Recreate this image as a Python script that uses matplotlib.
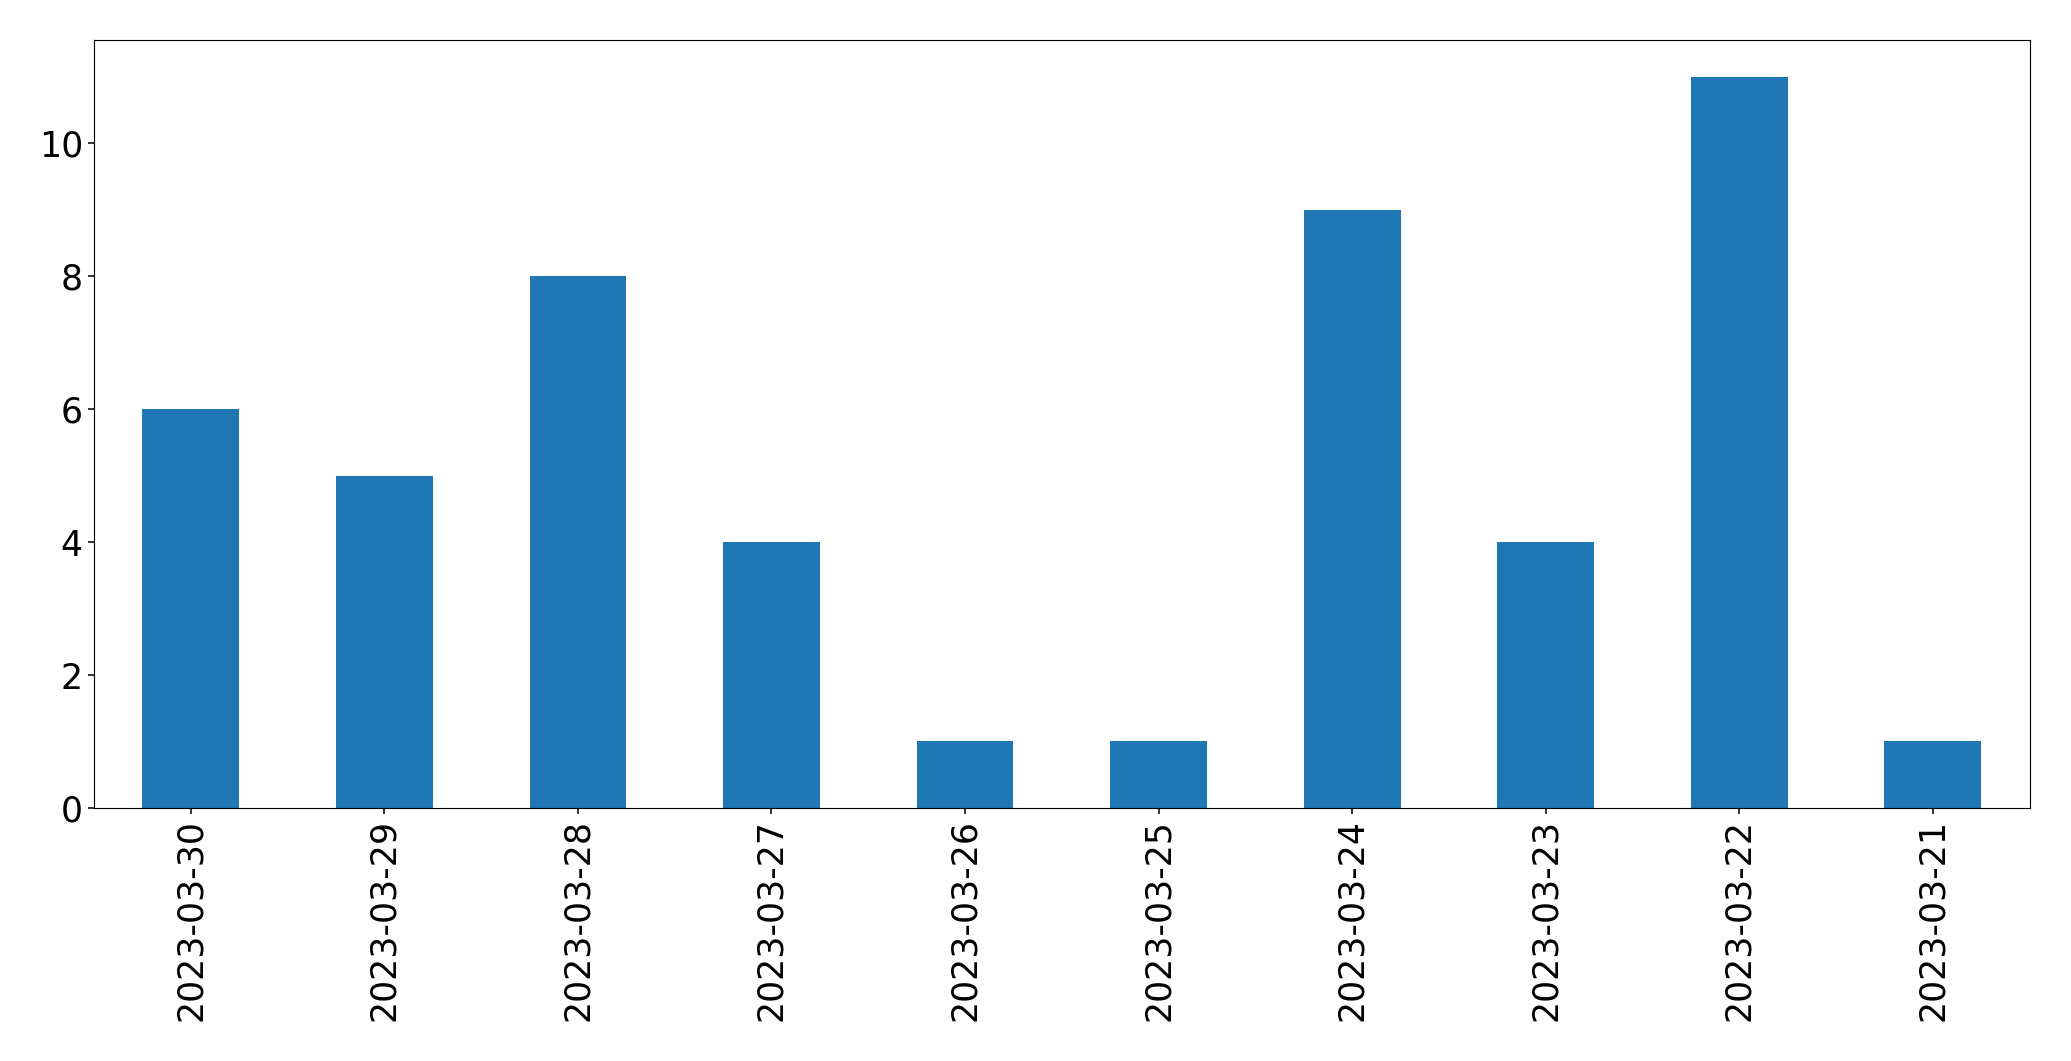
import matplotlib
matplotlib.use('Agg')
import matplotlib.pyplot as plt
import pandas as pd

# Daily counts, newest first
dates = ['2023-03-30', '2023-03-29', '2023-03-28', '2023-03-27', '2023-03-26',
         '2023-03-25', '2023-03-24', '2023-03-23', '2023-03-22', '2023-03-21']
counts = [6, 5, 8, 4, 1, 1, 9, 4, 11, 1]

series = pd.Series(counts, index=dates)

fig = plt.figure(figsize=(20.71, 10.61), dpi=100)
ax = fig.add_axes([0.0454, 0.2385, 0.9346, 0.7235])
series.plot(kind='bar', ax=ax, color='#1f77b4', width=0.5)

ax.tick_params(axis='both', labelsize=25, length=4.5, width=1.1)
ax.set_yticks([0, 2, 4, 6, 8, 10])

plt.savefig('out.png', dpi=100)
